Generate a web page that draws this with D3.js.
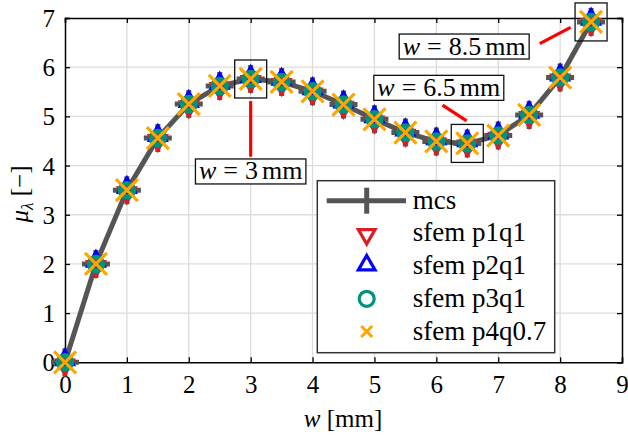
<!DOCTYPE html>
<html>
<head>
<meta charset="utf-8">
<script src="https://cdn.jsdelivr.net/npm/d3@7/dist/d3.min.js"></script>
<style>
  html, body { margin: 0; padding: 0; background: #fff; }
  svg { display: block; }
  svg text { font-family: "Liberation Serif", "Times New Roman", serif; fill: #000; }
</style>
</head>
<body>
<svg id="chart" width="628" height="435"></svg>
<script>
// Strip width w [mm] and the corresponding load factor μ_λ
const widths    = [0, 0.5, 1, 1.5, 2, 2.5, 3, 3.5, 4, 4.5, 5, 5.5, 6, 6.5, 7, 7.5, 8, 8.5];
const mcs       = [0, 2.00, 3.50, 4.56, 5.25, 5.62, 5.76, 5.70, 5.51, 5.24, 4.94, 4.67, 4.49, 4.45, 4.61, 5.03, 5.79, 6.92];
const sfemP1q1  = [0, 2.00, 3.50, 4.56, 5.25, 5.62, 5.76, 5.70, 5.51, 5.24, 4.94, 4.67, 4.49, 4.45, 4.61, 5.03, 5.79, 6.92];
const sfemP2q1  = [0, 2.00, 3.50, 4.56, 5.25, 5.62, 5.76, 5.70, 5.51, 5.24, 4.94, 4.67, 4.49, 4.45, 4.61, 5.03, 5.79, 6.92];
const sfemP3q1  = [0, 2.00, 3.50, 4.56, 5.25, 5.62, 5.76, 5.70, 5.51, 5.24, 4.94, 4.67, 4.49, 4.45, 4.61, 5.03, 5.79, 6.92];
const sfemP4q07 = [0, 2.00, 3.50, 4.56, 5.25, 5.62, 5.76, 5.70, 5.51, 5.24, 4.94, 4.67, 4.49, 4.45, 4.61, 5.03, 5.79, 6.92];

const xTicks = [0, 1, 2, 3, 4, 5, 6, 7, 8, 9];
const yTicks = [0, 1, 2, 3, 4, 5, 6, 7];

const legendLabels = ["mcs", "sfem p1q1", "sfem p2q1", "sfem p3q1", "sfem p4q0.7"];

// Highlighted widths with their callout label positions (data units)
const calloutW     = [3, 6.5, 8.5];
const calloutText  = ["3", "6.5", "8.5"];
const calloutLabel = [[3.0, 3.88], [6.04, 5.58], [6.45, 6.42]];
const calloutLine  = [[[3.0, 5.31], [3.0, 4.18]], [[6.10, 5.23], [6.49, 4.91]], [[7.67, 6.48], [8.17, 6.81]]];

const FONT = '"Liberation Serif", "Times New Roman", serif';
const svg = d3.select("#chart");
const margin = { left: 65, top: 18, right: 6, bottom: 72.7 };
const W = 628, H = 435;

const x = d3.scaleLinear().domain([0, 9]).range([margin.left, W - margin.right]);
const y = d3.scaleLinear().domain([0, 7]).range([H - margin.bottom, margin.top]);

const FS = 25;
const gridColor = "#dcdcdc";
const lineGray = "#555555";
const cRed = "#dd1c25", cBlue = "#0000ff", cTeal = "#00927c", cOrange = "#ffa500";

// grid
const grid = svg.append("g");
grid.selectAll("line.gx").data(xTicks.slice(1, -1)).join("line")
  .attr("x1", d => x(d)).attr("x2", d => x(d))
  .attr("y1", y(0)).attr("y2", y(7))
  .attr("stroke", gridColor).attr("stroke-width", 1.3);
grid.selectAll("line.gy").data(yTicks.slice(1, -1)).join("line")
  .attr("y1", d => y(d)).attr("y2", d => y(d))
  .attr("x1", x(0)).attr("x2", x(9))
  .attr("stroke", gridColor).attr("stroke-width", 1.3);

// axes with mirrored inner ticks
const tickLen = 5;
const axB = d3.axisBottom(x).tickValues(xTicks).tickSize(-tickLen).tickPadding(0).tickFormat(d3.format("d"));
const axT = d3.axisTop(x).tickValues(xTicks).tickSize(-tickLen).tickFormat("");
const axL = d3.axisLeft(y).tickValues(yTicks).tickSize(-tickLen).tickPadding(0).tickFormat(d3.format("d"));
const axR = d3.axisRight(y).tickValues(yTicks).tickSize(-tickLen).tickFormat("");

function styleAxis(g) {
  g.attr("font-family", null).attr("font-size", null);
  g.select(".domain").attr("stroke", "#000").attr("stroke-width", 1.5);
  g.selectAll(".tick line").attr("stroke", "#000").attr("stroke-width", 1.3);
  g.selectAll("text").style("font-family", FONT).style("font-size", FS + "px").attr("fill", "#000");
}
const gB = svg.append("g").attr("transform", `translate(0,${y(0)})`).call(axB).call(styleAxis);
gB.selectAll(".tick text").attr("dy", null).attr("y", 31);
svg.append("g").attr("transform", `translate(0,${y(7)})`).call(axT).call(styleAxis);
const gL = svg.append("g").attr("transform", `translate(${x(0)},0)`).call(axL).call(styleAxis);
gL.selectAll(".tick text").attr("x", -10).attr("dy", "0.34em");
svg.append("g").attr("transform", `translate(${x(9)},0)`).call(axR).call(styleAxis);

// axis labels
const xl = svg.append("text").attr("x", 343).attr("y", 427).attr("text-anchor", "middle")
  .style("font-family", FONT).style("font-size", FS + "px");
xl.append("tspan").attr("font-style", "italic").text("w");
xl.append("tspan").text(" [mm]");

const yl = svg.append("text").attr("transform", "translate(28,194) rotate(-90)")
  .attr("text-anchor", "middle").style("font-family", FONT).style("font-size", FS + "px");
yl.append("tspan").attr("font-style", "italic").text("μ");
yl.append("tspan").attr("font-style", "italic").style("font-size", "17px").attr("dy", 5).text("λ");
yl.append("tspan").attr("dy", -5).text(" [−]");

// marker shapes
const triUp = d3.symbol().type(d3.symbolTriangle).size(120);
function drawMarkers(g, kind, xs, ys) {
  const pts = xs.map((w, i) => [x(w), y(ys[i])]);
  if (kind === "plus") {
    const h = 14;
    pts.forEach(([px, py]) => {
      g.append("path").attr("d", `M${px - h},${py}H${px + h}M${px},${py - h}V${py + h}`)
        .attr("stroke", lineGray).attr("stroke-width", 5).attr("fill", "none");
    });
  } else if (kind === "down") {
    g.selectAll(null).data(pts).join("path")
      .attr("d", triUp).attr("transform", d => `translate(${d[0]},${d[1] + 2.5}) rotate(180)`)
      .attr("fill", "none").attr("stroke", cRed).attr("stroke-width", 3.2);
  } else if (kind === "up") {
    g.selectAll(null).data(pts).join("path")
      .attr("d", triUp).attr("transform", d => `translate(${d[0]},${d[1] - 2.5})`)
      .attr("fill", "none").attr("stroke", cBlue).attr("stroke-width", 3.2);
  } else if (kind === "circle") {
    g.selectAll(null).data(pts).join("circle")
      .attr("cx", d => d[0]).attr("cy", d => d[1]).attr("r", 6.5)
      .attr("fill", "none").attr("stroke", cTeal).attr("stroke-width", 5.5);
  } else if (kind === "x") {
    const h = 11;
    pts.forEach(([px, py]) => {
      g.append("path").attr("d", `M${px - h},${py - h}L${px + h},${py + h}M${px - h},${py + h}L${px + h},${py - h}`)
        .attr("stroke", cOrange).attr("stroke-width", 3.2).attr("fill", "none");
    });
  }
}

// mcs reference curve
const line = d3.line().x((d, i) => x(widths[i])).y(d => y(d));
svg.append("path").datum(mcs).attr("d", line)
  .attr("fill", "none").attr("stroke", lineGray).attr("stroke-width", 5).attr("stroke-linejoin", "round");

const marks = svg.append("g");
drawMarkers(marks.append("g"), "plus", widths, mcs);
drawMarkers(marks.append("g"), "down", widths, sfemP1q1);
drawMarkers(marks.append("g"), "up", widths, sfemP2q1);
drawMarkers(marks.append("g"), "circle", widths, sfemP3q1);
drawMarkers(marks.append("g"), "x", widths, sfemP4q07);

// callouts: box around the point, red connector, boxed label
const call = svg.append("g");
calloutW.forEach((w, i) => {
  const idx = widths.indexOf(w);
  const px = x(w), py = y(mcs[idx]);
  call.append("rect").attr("x", px - 16).attr("y", py - 19).attr("width", 32).attr("height", 38)
    .attr("fill", "none").attr("stroke", "#111").attr("stroke-width", 1.3);
  const [[a0, b0], [a1, b1]] = calloutLine[i];
  call.append("line").attr("x1", x(a0)).attr("y1", y(b0)).attr("x2", x(a1)).attr("y2", y(b1))
    .attr("stroke", "#ff0000").attr("stroke-width", 3.2);
  const [lx, ly] = calloutLabel[i];
  const cx = x(lx), cy = y(ly);
  const lg = call.append("g");
  const t = lg.append("text").attr("x", cx).attr("y", cy + 8).attr("text-anchor", "middle")
    .style("font-family", FONT).style("font-size", "26px");
  t.append("tspan").attr("font-style", "italic").text("w");
  t.append("tspan").attr("dx", 7).text("=");
  t.append("tspan").attr("dx", 7).text(calloutText[i]);
  t.append("tspan").attr("dx", 4).text("mm");
  const tw = t.node().getComputedTextLength() + 18;
  lg.insert("rect", "text").attr("x", cx - tw / 2 - 3.5).attr("y", cy - 12.5)
    .attr("width", tw + 7).attr("height", 25)
    .attr("fill", "#fff").attr("stroke", "#111").attr("stroke-width", 1.3);
});

// legend
const leg = svg.append("g");
leg.append("rect").attr("x", 317.3).attr("y", 180.7).attr("width", 237.4).attr("height", 172)
  .attr("fill", "#fff").attr("stroke", "#333").attr("stroke-width", 1.5);
const rowY = d3.scalePoint().domain(legendLabels).range([200.7, 331.5]);
const mx = 366.7;
legendLabels.forEach((lab, i) => {
  const ry = rowY(lab);
  const g = leg.append("g");
  if (i === 0) {
    g.append("line").attr("x1", 326.7).attr("x2", 406).attr("y1", ry).attr("y2", ry)
      .attr("stroke", lineGray).attr("stroke-width", 5);
    g.append("line").attr("x1", mx).attr("x2", mx).attr("y1", ry - 13).attr("y2", ry + 13)
      .attr("stroke", lineGray).attr("stroke-width", 5);
  } else if (i === 1) {
    g.append("path").attr("d", d3.symbol().type(d3.symbolTriangle).size(120)())
      .attr("transform", `translate(${mx},${ry + 1}) rotate(180)`)
      .attr("fill", "none").attr("stroke", cRed).attr("stroke-width", 3.2);
  } else if (i === 2) {
    g.append("path").attr("d", d3.symbol().type(d3.symbolTriangle).size(120)())
      .attr("transform", `translate(${mx},${ry - 1})`)
      .attr("fill", "none").attr("stroke", cBlue).attr("stroke-width", 3.2);
  } else if (i === 3) {
    g.append("circle").attr("cx", mx).attr("cy", ry).attr("r", 7.5)
      .attr("fill", "none").attr("stroke", cTeal).attr("stroke-width", 3.2);
  } else {
    const h = 5.5;
    g.append("path").attr("d", `M${mx - h},${ry - h}L${mx + h},${ry + h}M${mx - h},${ry + h}L${mx + h},${ry - h}`)
      .attr("stroke", cOrange).attr("stroke-width", 3).attr("fill", "none");
  }
  g.append("text").attr("x", 412.7).attr("y", ry + 8)
    .style("font-family", FONT).style("font-size", "27px").text(lab);
});
</script>
</body>
</html>
